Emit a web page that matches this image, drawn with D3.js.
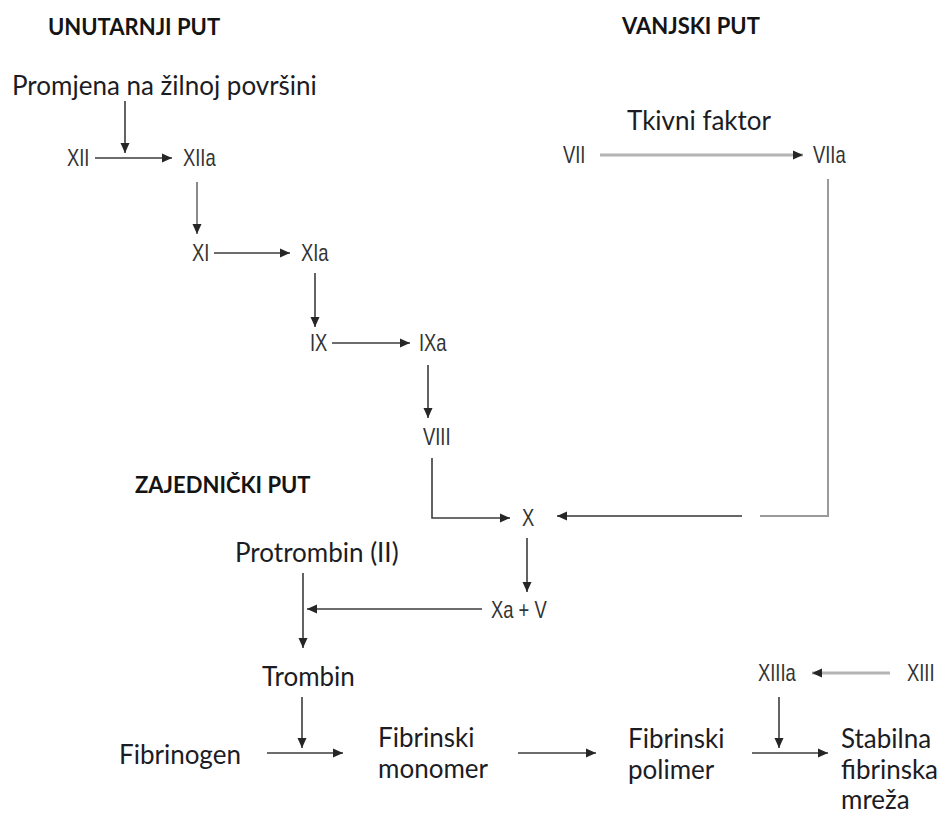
<!DOCTYPE html>
<meta charset="utf-8">
<script src="https://d3js.org/d3.v7.min.js"></script>
<style>
    body {margin: 0; background: #fff;}
    .term {font-family: Lato, 'Open Sans', sans-serif; fill: #1c1c24;}
    .title {font-family: Lato, sans-serif; font-weight: bold; fill: #141414;}
    .factor {font-family: 'Liberation Sans Narrow', 'Arial Narrow', 'Liberation Sans', sans-serif; fill: #333;}
</style>
<body>
<svg width="947" height="816"></svg>
<script>
    // path headings
    const pathTitles = [
        {id: "unut", text: "UNUTARNJI PUT"},
        {id: "vanj", text: "VANJSKI PUT"},
        {id: "zaj", text: "ZAJEDNIČKI PUT"}
    ];
    // clotting factors (roman numerals)
    const factors = [
        {id: "XII", text: "XII"}, {id: "XIIa", text: "XIIa"},
        {id: "XI", text: "XI"}, {id: "XIa", text: "XIa"},
        {id: "IX", text: "IX"}, {id: "IXa", text: "IXa"},
        {id: "VIII", text: "VIII"},
        {id: "VII", text: "VII"}, {id: "VIIa", text: "VIIa"},
        {id: "X", text: "X"}, {id: "XaV", text: "Xa + V"},
        {id: "XIII", text: "XIII"}, {id: "XIIIa", text: "XIIIa"}
    ];
    // named substances, multi-line where wrapped
    const terms = [
        {id: "promjena", lines: ["Promjena na žilnoj površini"]},
        {id: "tkivni", lines: ["Tkivni faktor"]},
        {id: "protrombin", lines: ["Protrombin (II)"]},
        {id: "trombin", lines: ["Trombin"]},
        {id: "fibrinogen", lines: ["Fibrinogen"]},
        {id: "monomer", lines: ["Fibrinski", "monomer"]},
        {id: "polimer", lines: ["Fibrinski", "polimer"]},
        {id: "stabilna", lines: ["Stabilna", "fibrinska", "mreža"]}
    ];
    // reactions: from -> to, style
    const edges = [
        {from: "promjena", to: "XII-XIIa", kind: "dark"},
        {from: "XII", to: "XIIa", kind: "dark"},
        {from: "XIIa", to: "XI", kind: "grey"},
        {from: "XI", to: "XIa", kind: "dark"},
        {from: "XIa", to: "IX", kind: "dark"},
        {from: "IX", to: "IXa", kind: "dark"},
        {from: "IXa", to: "VIII", kind: "dark"},
        {from: "VIII", to: "X", kind: "dark"},
        {from: "VII", to: "VIIa", kind: "thick"},
        {from: "VIIa", to: "X-gap", kind: "greyline"},
        {from: "X-gap", to: "X", kind: "mid"},
        {from: "X", to: "XaV", kind: "dark"},
        {from: "XaV", to: "protrombin-trombin", kind: "dark"},
        {from: "protrombin", to: "trombin", kind: "dark"},
        {from: "trombin", to: "fibrinogen-monomer", kind: "dark"},
        {from: "fibrinogen", to: "monomer", kind: "dark"},
        {from: "monomer", to: "polimer", kind: "dark"},
        {from: "polimer", to: "stabilna", kind: "dark"},
        {from: "XIII", to: "XIIIa", kind: "thick"},
        {from: "XIIIa", to: "polimer-stabilna", kind: "dark"}
    ];

    // ---- layout (pixel placement on the page) ----
    const textPos = {
        unut: [48, 35], vanj: [622, 34], zaj: [135, 493],
        promjena: [12, 95], tkivni: [627, 130], protrombin: [235, 562],
        trombin: [262, 686], fibrinogen: [119, 764], monomer: [378, 747],
        polimer: [628, 748], stabilna: [841, 748],
        XII: [67, 158], XIIa: [183, 158], XI: [192, 253], XIa: [301, 253],
        IX: [310, 343], IXa: [419, 343], VIII: [423, 437],
        VII: [563, 155], VIIa: [813, 155], X: [522, 518], XaV: [491, 610],
        XIIIa: [758, 673], XIII: [907, 673]
    };
    const edgePts = {
        "promjena>XII-XIIa": [[125, 101], [125, 153]],
        "XII>XIIa": [[95, 158], [172, 158]],
        "XIIa>XI": [[197, 182], [197, 234]],
        "XI>XIa": [[214, 253], [290, 253]],
        "XIa>IX": [[315, 273], [315, 327]],
        "IX>IXa": [[332, 343], [410, 343]],
        "IXa>VIII": [[428, 365], [428, 418]],
        "VIII>X": [[432, 458], [432, 518], [510, 518]],
        "VII>VIIa": [[600, 155], [803, 155]],
        "VIIa>X-gap": [[828, 179], [828, 516], [760, 516]],
        "X-gap>X": [[742, 516], [557, 516]],
        "X>XaV": [[527, 538], [527, 592]],
        "XaV>protrombin-trombin": [[482, 609], [307, 609]],
        "protrombin>trombin": [[303, 573], [303, 648]],
        "trombin>fibrinogen-monomer": [[302, 697], [302, 748]],
        "fibrinogen>monomer": [[267, 753], [343, 753]],
        "monomer>polimer": [[518, 753], [596, 753]],
        "polimer>stabilna": [[752, 753], [828, 753]],
        "XIII>XIIIa": [[890, 673], [812, 673]],
        "XIIIa>polimer-stabilna": [[779, 697], [779, 748]]
    };
    const edgeStyle = {
        dark: {stroke: "#3c3c3c", width: 1.6, arrow: true},
        mid: {stroke: "#666", width: 1.8, arrow: true},
        grey: {stroke: "#8a8a8a", width: 2, arrow: true},
        thick: {stroke: "#b4b4b4", width: 3.2, arrow: true},
        greyline: {stroke: "#9a9a9a", width: 2, arrow: false}
    };

    const svg = d3.select("svg");

    svg.append("defs").append("marker")
        .attr("id", "head")
        .attr("viewBox", "0 -5 10 10")
        .attr("refX", 10).attr("refY", 0)
        .attr("markerUnits", "userSpaceOnUse")
        .attr("markerWidth", 11).attr("markerHeight", 10)
        .attr("orient", "auto")
        .append("path")
        .attr("d", "M0,-4.5L10,0L0,4.5Z")
        .attr("fill", "#262626");

    const line = d3.line();

    svg.append("g").attr("class", "edges")
        .selectAll("path")
        .data(edges)
        .join("path")
        .attr("d", d => line(edgePts[d.from + ">" + d.to]))
        .attr("fill", "none")
        .attr("stroke", d => edgeStyle[d.kind].stroke)
        .attr("stroke-width", d => edgeStyle[d.kind].width)
        .attr("marker-end", d => edgeStyle[d.kind].arrow ? "url(#head)" : null);

    svg.append("g")
        .selectAll("text")
        .data(pathTitles)
        .join("text")
        .attr("class", "title")
        .attr("x", d => textPos[d.id][0])
        .attr("y", d => textPos[d.id][1])
        .style("font-size", "22px")
        .text(d => d.text);

    const term = svg.append("g")
        .selectAll("text")
        .data(terms)
        .join("text")
        .attr("class", "term")
        .attr("x", d => textPos[d.id][0])
        .attr("y", d => textPos[d.id][1])
        .style("font-size", "26px");
    term.selectAll("tspan")
        .data(d => d.lines.map((t, i) => ({t, i, x: textPos[d.id][0]})))
        .join("tspan")
        .attr("x", d => d.x)
        .attr("dy", d => d.i ? 30.5 : 0)
        .text(d => d.t);

    // numerals: check whether the narrow face is present, squeeze if not
    const probe = svg.append("text").attr("class", "factor")
        .style("font-size", "23px").text("XII");
    const probeW = probe.node().getComputedTextLength();
    probe.remove();
    const squeeze = probeW > 27 ? 0.8 : 1;

    svg.append("g")
        .selectAll("g")
        .data(factors)
        .join("g")
        .attr("transform", d => `translate(${textPos[d.id][0]},${textPos[d.id][1]}) scale(${squeeze},1)`)
        .append("text")
        .attr("class", "factor")
        .attr("dy", "0.36em")
        .style("font-size", "23px")
        .text(d => d.text);
</script>
</body>
